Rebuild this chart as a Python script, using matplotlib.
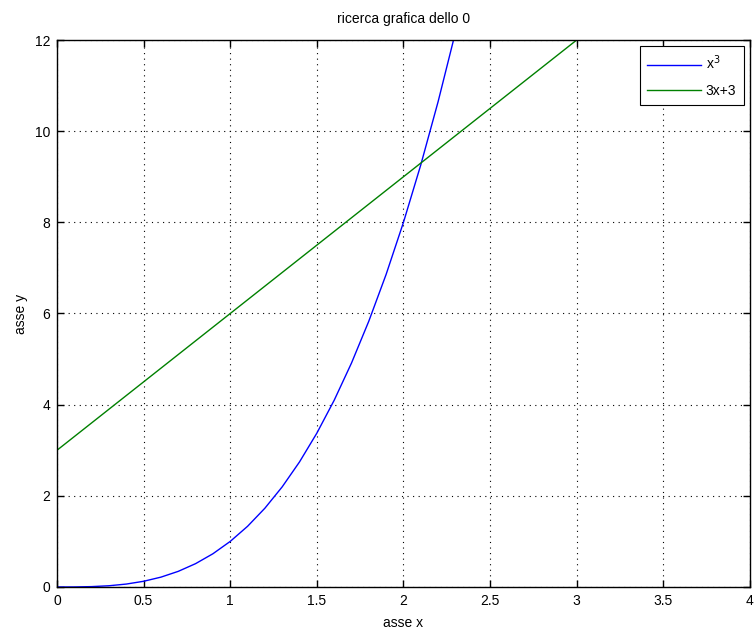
import matplotlib
matplotlib.use("Agg")
import matplotlib.pyplot as plt

plt.rcParams['font.family'] = ['Liberation Sans', 'DejaVu Sans']

# curve values
x_cube = [0.0, 0.1, 0.2, 0.3, 0.4, 0.5, 0.6, 0.7, 0.8, 0.9, 1.0, 1.1, 1.2,
          1.3, 1.4, 1.5, 1.6, 1.7, 1.8, 1.9, 2.0, 2.1, 2.2, 2.3, 2.4]
y_cube = [0.0, 0.001, 0.008, 0.027, 0.064, 0.125, 0.216, 0.343, 0.512, 0.729,
          1.0, 1.331, 1.728, 2.197, 2.744, 3.375, 4.096, 4.913, 5.832, 6.859,
          8.0, 9.261, 10.648, 12.167, 13.824]
x_line = [0.0, 0.5, 1.0, 1.5, 2.0, 2.5, 3.0]
y_line = [3.0, 4.5, 6.0, 7.5, 9.0, 10.5, 12.0]

x_ticks = [0, 0.5, 1, 1.5, 2, 2.5, 3, 3.5, 4]
x_ticklabels = ['0', '0.5', '1', '1.5', '2', '2.5', '3', '3.5', '4']
y_ticks = [0, 2, 4, 6, 8, 10, 12]

fig = plt.figure(figsize=(7.54, 6.33), dpi=100)
ax = fig.add_axes([0.0756, 0.0727, 0.9190, 0.8641])

ax.plot(x_cube, y_cube, color=(0, 0, 1), lw=1.0, label='x$^3$')
ax.plot(x_line, y_line, color=(0, 0.5, 0), lw=1.0, label='3x+3')

ax.set_xlim(0, 4)
ax.set_ylim(0, 12)
ax.set_xticks(x_ticks)
ax.set_xticklabels(x_ticklabels)
ax.set_yticks(y_ticks)
ax.tick_params(direction='in', top=True, right=True, length=5, width=1,
               labelsize=10, pad=5)
ax.grid(True, linestyle=(0, (1, 4)), color='black', linewidth=0.8)
for s in ax.spines.values():
    s.set_linewidth(1.0)

ax.set_title('ricerca grafica dello 0', fontsize=10, pad=12)
ax.set_xlabel('asse x', fontsize=10, labelpad=6)
ax.set_ylabel('asse y', fontsize=10, labelpad=5)

leg = ax.legend(loc='upper right', fontsize=10, fancybox=False, framealpha=1,
                edgecolor='black', borderaxespad=0.45, handlelength=3.9,
                handletextpad=0.3, labelspacing=0.8, borderpad=0.55)
leg.get_frame().set_linewidth(0.8)

fig.savefig('out.png', dpi=100)
